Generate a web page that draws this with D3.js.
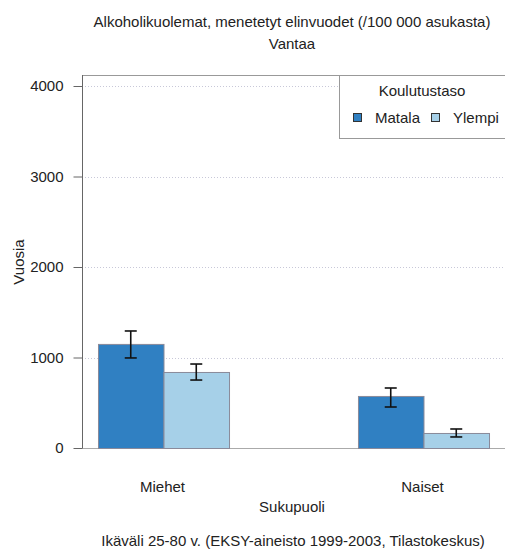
<!DOCTYPE html>
<meta charset="utf-8">
<style>
body { margin: 0; background: #fff; }
svg { font-family: "Liberation Sans", Arial, sans-serif; }
.grid line { stroke: #c8c8d8; stroke-dasharray: 1,2; }
.axis path, .axis line { stroke: #666; }
.axis text { font-size: 15px; fill: #222; font-family: "Liberation Sans", Arial, sans-serif; }
</style>
<svg width="505" height="551"></svg>
<script src="https://d3js.org/d3.v7.min.js"></script>
<script>

var groups = ["Miehet", "Naiset"];
var levels = ["Matala", "Ylempi"];
var values = [[1150, 840], [575, 166]];
var lower = [[995, 751], [453, 122]];
var upper = [[1293, 928], [663, 210]];
var yTicks = [0, 1000, 2000, 3000, 4000];

var svg = d3.select("svg"),
    width = +svg.attr("width"),
    height = +svg.attr("height");

var plotLeft = 82, plotRight = 505, plotTop = 75, plotBottom = 448;

var y = d3.scaleLinear().domain([0, 4000]).range([plotBottom, 86]);
var x = d3.scaleBand().domain(groups).range([plotLeft, plotRight])
    .paddingInner(0.496).paddingOuter(0.0615);
var xs = d3.scaleBand().domain(levels).range([0, x.bandwidth()]);
var color = d3.scaleOrdinal().domain(levels).range(["#3080c2", "#a6d0e8"]);

// grid
svg.append("g").attr("class", "grid")
  .selectAll("line").data(yTicks.slice(1)).enter().append("line")
    .attr("x1", plotLeft).attr("x2", plotRight)
    .attr("y1", d => Math.round(y(d)) + 0.5).attr("y2", d => Math.round(y(d)) + 0.5);

// frame
svg.append("line").attr("x1", plotLeft).attr("x2", plotRight)
  .attr("y1", plotTop + 0.5).attr("y2", plotTop + 0.5).attr("stroke", "#999");
svg.append("line").attr("x1", plotLeft).attr("x2", plotRight)
  .attr("y1", plotBottom + 0.5).attr("y2", plotBottom + 0.5).attr("stroke", "#aaa");

// bars
var g = svg.append("g").selectAll("g").data(groups).enter().append("g")
    .attr("transform", d => "translate(" + x(d) + ",0)");

g.selectAll("rect").data((d, i) => levels.map((l, j) => ({l: l, v: values[i][j]})))
  .enter().append("rect")
    .attr("x", d => xs(d.l) + 0.5)
    .attr("y", d => y(d.v) + 0.5)
    .attr("width", xs.bandwidth())
    .attr("height", d => plotBottom - y(d.v))
    .attr("fill", d => color(d.l))
    .attr("stroke", "#8a8a9a")
    .attr("stroke-width", 1);

var err = g.selectAll("g.err").data((d, i) => levels.map((l, j) => ({l: l, lo: lower[i][j], hi: upper[i][j]})))
  .enter().append("g").attr("class", "err")
    .attr("transform", d => "translate(" + (xs(d.l) + xs.bandwidth() / 2) + ",0)")
    .attr("stroke", "#111").attr("stroke-width", 1.6);
err.append("line").attr("y1", d => y(d.lo)).attr("y2", d => y(d.hi));
err.append("line").attr("x1", -6).attr("x2", 6).attr("y1", d => y(d.lo)).attr("y2", d => y(d.lo));
err.append("line").attr("x1", -6).attr("x2", 6).attr("y1", d => y(d.hi)).attr("y2", d => y(d.hi));

// y axis
svg.append("g").attr("class", "axis")
    .attr("transform", "translate(" + (plotLeft + 0.5) + ",0)")
    .call(d3.axisLeft(y).tickValues(yTicks).tickFormat(d3.format("d"))
      .tickSize(9).tickPadding(10).tickSizeOuter(0))
    .call(a => a.select(".domain").attr("d", "M0," + plotTop + "V" + plotBottom));

// x labels
svg.append("g").selectAll("text").data(groups).enter().append("text")
    .attr("x", d => x(d) + x.bandwidth() / 2 - 1)
    .attr("y", 492)
    .attr("text-anchor", "middle")
    .attr("font-size", 15)
    .attr("fill", "#222")
    .text(d => d);

svg.append("text").attr("x", 292).attr("y", 512).attr("text-anchor", "middle")
    .attr("font-size", 15).attr("fill", "#222").text("Sukupuoli");
svg.append("text").attr("transform", "translate(24,262) rotate(-90)")
    .attr("text-anchor", "middle").attr("font-size", 15).attr("fill", "#222").text("Vuosia");

// titles
svg.append("text").attr("x", 292).attr("y", 27).attr("text-anchor", "middle")
    .attr("font-size", 15).attr("fill", "#222")
    .text("Alkoholikuolemat, menetetyt elinvuodet (/100 000 asukasta)");
svg.append("text").attr("x", 292).attr("y", 49).attr("text-anchor", "middle")
    .attr("font-size", 15).attr("fill", "#222").text("Vantaa");
svg.append("text").attr("x", 293).attr("y", 546).attr("text-anchor", "middle")
    .attr("font-size", 15).attr("fill", "#222")
    .text("Ikäväli 25-80 v. (EKSY-aineisto 1999-2003, Tilastokeskus)");

// legend
var lg = svg.append("g").attr("transform", "translate(339,75)");
lg.append("rect").attr("x", 0.5).attr("y", 0.5).attr("width", 170).attr("height", 63)
    .attr("fill", "#fff").attr("stroke", "#999");
lg.append("text").attr("x", 83).attr("y", 21).attr("text-anchor", "middle")
    .attr("font-size", 15).attr("fill", "#222").text("Koulutustaso");
var li = lg.selectAll("g.item").data(levels).enter().append("g")
    .attr("transform", (d, i) => "translate(" + (14 + i * 78) + ",38)");
li.append("rect").attr("width", 8).attr("height", 8).attr("x", 0.5).attr("y", 0.5)
    .attr("fill", d => color(d)).attr("stroke", "#333");
li.append("text").attr("x", 22).attr("y", 9.5).attr("font-size", 15).attr("fill", "#222").text(d => d);

</script>
